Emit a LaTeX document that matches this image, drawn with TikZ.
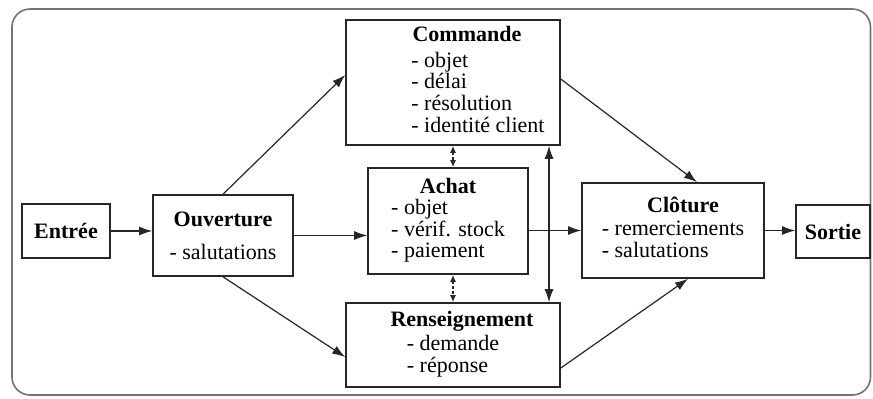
\documentclass[tikz,border=0pt]{standalone}
\usepackage{fontspec}
\setmainfont{Liberation Serif}
\usetikzlibrary{arrows.meta}

\begin{document}
\begin{tikzpicture}[x=0.5pt,y=-0.5pt,>={Latex[length=6.5pt,width=4.5pt]}]
\tikzstyle{box}=[draw=black!85,line width=0.8pt,inner sep=0pt,align=center,font=\fontsize{11}{10.5}\selectfont]
\tikzstyle{fleche}=[->,draw=black!85,line width=0.6pt]
\tikzstyle{lien}=[{Latex[length=3.5pt,width=3pt]}-{Latex[length=3.5pt,width=3pt]},draw=black!85,line width=0.6pt,dash pattern=on 1.5pt off 1pt]
\useasboundingbox (0,0) rectangle (873,398);
\draw[black!55,line width=0.8pt,rounded corners=9pt] (12,9) rectangle (870.5,395);
% phases
\node[box,minimum width=44pt,minimum height=27pt] (ent) at (66,231) {\textbf{Entrée}};
\node[box,minimum width=70pt,minimum height=40.5pt] (ouv) at (223,235.5) {\textbf{Ouverture}\\[6pt]- salutations};
\node[box,minimum width=107pt,minimum height=62.5pt] (cmd) at (453,82.5) {\hspace*{14pt}\textbf{Commande}\\[4pt]\begin{tabular}{@{\hspace{25pt}}l@{}}- objet\\- délai\\- résolution\\- identité client\end{tabular}};
\node[box,minimum width=80pt,minimum height=53pt] (ach) at (448,221) {\textbf{Achat}\\[2pt]\begin{tabular}{@{}l@{}}- objet\\- vérif. stock\\- paiement\end{tabular}};
\node[box,minimum width=107pt,minimum height=42pt] (ren) at (453,345) {\hspace*{9pt}\textbf{Renseignement}\\[1pt]\begin{tabular}{@{}l@{}}- demande\\- réponse\end{tabular}};
\node[box,minimum width=91pt,minimum height=47.5pt] (clo) at (673,230.5) {\hspace*{10pt}\textbf{Clôture}\\[3pt]\begin{tabular}{@{}l@{}}- remerciements\\- salutations\end{tabular}};
\node[box,minimum width=37pt,minimum height=26.5pt] (sor) at (833,231.5) {\textbf{Sortie}};
\coordinate (v) at (549,0);
% transitions
\draw[fleche] (ent.east) -- (ent.east -| ouv.west);
\draw[fleche] (ouv.north) -- ([yshift=3.75pt]cmd.west);
\draw[fleche] (ouv.east) -- (ouv.east -| ach.west);
\draw[fleche] (ouv.south) -- ([yshift=-6pt]ren.west);
\draw[fleche] ([yshift=1.75pt]cmd.east) -- ([xshift=12pt]clo.north);
\draw[fleche] (ach.east |- clo.west) -- (clo.west);
\draw[fleche] ([yshift=-11.5pt]ren.east) -- ([xshift=7.5pt]clo.south);
\draw[fleche] (clo.east) -- (clo.east -| sor.west);
\draw[fleche,<->] (v |- cmd.south) -- (v |- ren.north);
\draw[lien] (cmd.south) -- (cmd.south |- ach.north);
\draw[lien] (ren.north |- ach.south) -- (ren.north);
\end{tikzpicture}
\end{document}
